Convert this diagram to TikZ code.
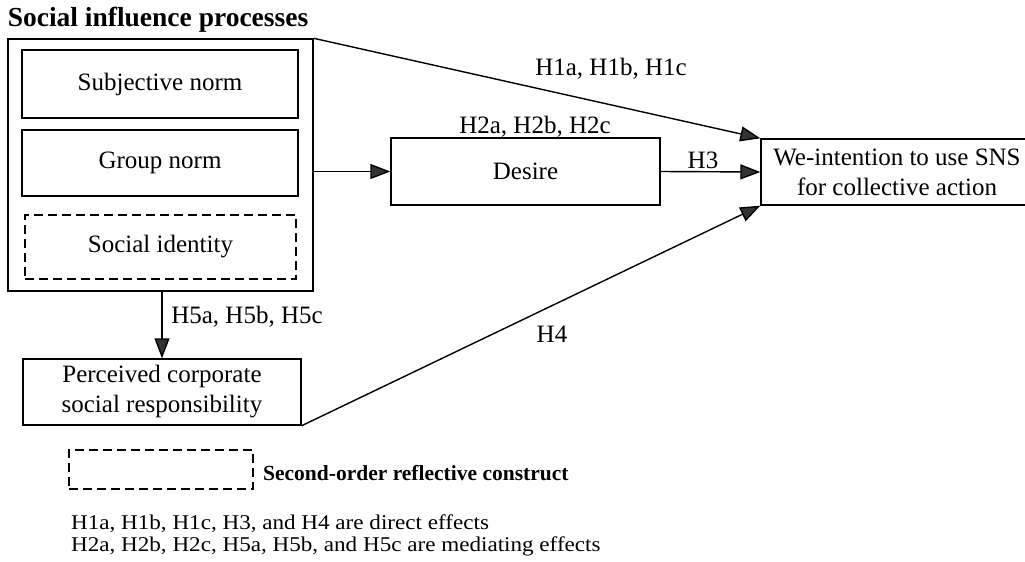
\documentclass[tikz,border=0pt]{standalone}
\usepackage{fontspec}
\setmainfont{Liberation Serif}
\newfontfamily\legfont[FakeStretch=1.1]{Liberation Serif}
\usetikzlibrary{arrows.meta}
\definecolor{arrowgray}{HTML}{333333}
\begin{document}
\begin{tikzpicture}[x=1pt,y=-1pt,
  box/.style={draw=black,line width=1.4pt,rectangle,inner sep=0pt,align=center,
    font=\fontsize{25}{30}\selectfont},
  dbox/.style={box,dash pattern=on 9pt off 5pt},
  lab/.style={inner sep=0pt,font=\fontsize{25}{30}\selectfont},
  legend/.style={inner sep=0pt,anchor=west,font=\legfont\fontsize{21}{20}\selectfont},
  conn/.style={draw=black,line width=1.4pt,
    -{Triangle[length=20pt,width=15pt,fill=arrowgray]}}]
\useasboundingbox (0,0) rectangle (1025,562);
% title
\node[inner sep=0pt,font=\fontsize{27.5}{30}\selectfont\bfseries] (title) at (158,20) {Social influence processes};
% boxes
\node[box,minimum width=305pt,minimum height=252pt] (sip) at (160.5,165) {};
\node[box,minimum width=276pt,minimum height=68pt] (sn) at (160,84) {Subjective norm};
\node[box,minimum width=276pt,minimum height=66pt] (gn) at (160,163) {Group norm};
\node[dbox,minimum width=271pt,minimum height=64pt] (si) at (160.5,247) {Social identity};
\node[box,minimum width=269pt,minimum height=67pt] (des) at (525.5,171.5) {Desire};
\node[box,minimum width=272pt,minimum height=66pt] (we) at (897,172) {We-intention to use SNS\\for collective action};
\node[box,minimum width=278pt,minimum height=66pt] (pcsr) at (162,392) {Perceived corporate\\social responsibility};
% connectors
\draw[conn] (sip.north east) -- (we.north west);
\draw[conn] (sip.east |- des.west) -- (des.west);
\draw[conn] (des.east) -- (we.west);
\draw[conn] (sip.south -| pcsr.north) -- (pcsr.north);
\draw[conn] (pcsr.south east) -- (we.south west);
% labels
\node[lab] (l1) at (611,69) {H1a, H1b, H1c};
\node[lab] (l2) at (535,127) {H2a, H2b, H2c};
\node[lab] (l3) at (703,160) {H3};
\node[lab] (l4) at (552,334) {H4};
\node[lab] (l5) at (247,317) {H5a, H5b, H5c};
% legend
\node[dbox,minimum width=184pt,minimum height=39pt] (leg) at (161,469.5) {};
\node[legend,font=\fontsize{21.5}{20}\selectfont\bfseries] (legt) at (263,473) {Second-order reflective construct};
\node[legend] (n1) at (71,524) {H1a, H1b, H1c, H3, and H4 are direct effects};
\node[legend] (n2) at (71,546) {H2a, H2b, H2c, H5a, H5b, and H5c are mediating effects};
\end{tikzpicture}
\end{document}
